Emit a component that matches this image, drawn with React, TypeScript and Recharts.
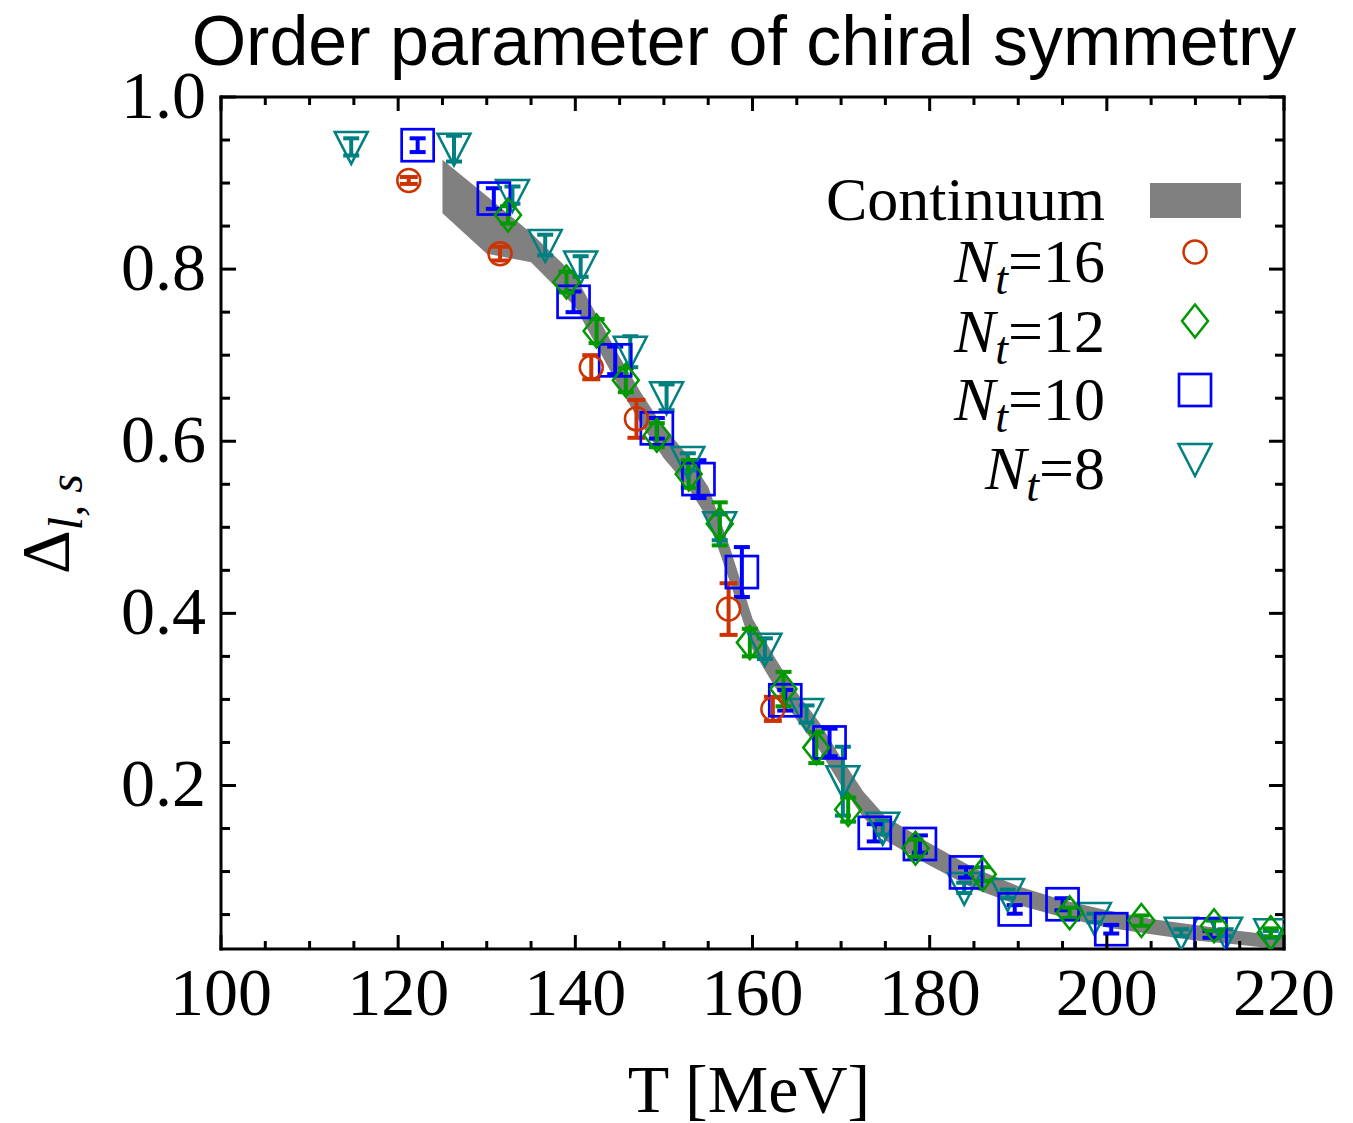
import React from 'react';
import { ComposedChart, Area, Scatter, ErrorBar, XAxis, YAxis } from 'recharts';

// axis ticks
const xTicks = [100, 105, 110, 115, 120, 125, 130, 135, 140, 145, 150, 155, 160, 165, 170, 175, 180, 185, 190, 195, 200, 205, 210, 215, 220];
const xMajor = [100, 120, 140, 160, 180, 200, 220];
const yTicks = [0.05, 0.1, 0.15, 0.2, 0.25, 0.3, 0.35, 0.4, 0.45, 0.5, 0.55, 0.6, 0.65, 0.7, 0.75, 0.8, 0.85, 0.9, 0.95, 1.0];
const yMajor = [0.2, 0.4, 0.6, 0.8, 1.0];

// continuum band
const bandT = [125, 130, 135, 140, 145, 147.5, 150, 152.5, 155, 157.5, 160, 162.5, 165, 167.5, 170, 172.5, 175, 180, 185, 190, 195, 200, 205, 210, 215, 220];
const bandLow = [0.865, 0.818, 0.808, 0.756, 0.662, 0.619, 0.58, 0.55, 0.509, 0.435, 0.358, 0.315, 0.276, 0.242, 0.2, 0.163, 0.136, 0.107, 0.08, 0.061, 0.047, 0.035, 0.027, 0.02, 0.015, 0.009];
const bandHigh = [0.927, 0.885, 0.842, 0.792, 0.698, 0.655, 0.616, 0.586, 0.547, 0.475, 0.394, 0.349, 0.308, 0.274, 0.232, 0.193, 0.164, 0.133, 0.104, 0.083, 0.067, 0.055, 0.045, 0.038, 0.031, 0.025];

// N_t = 8
const nt8T = [114.7, 126.3, 132.9, 136.6, 140.6, 146.2, 150.3, 152.7, 156.3, 161.4, 166.1, 170.2, 174.7, 183.9, 188.8, 198.6, 208.4, 213.4, 218.5];
const nt8D = [0.942, 0.94, 0.886, 0.828, 0.803, 0.704, 0.651, 0.576, 0.5, 0.359, 0.283, 0.205, 0.151, 0.081, 0.074, 0.046, 0.029, 0.029, 0.027];
const nt8E = [0.01, 0.015, 0.01, 0.012, 0.012, 0.018, 0.015, 0.01, 0.015, 0.012, 0.01, 0.04, 0.008, 0.006, 0.005, 0.005, 0.004, 0.004, 0.004];

// N_t = 10
const nt10T = [122.2, 130.8, 139.8, 144.5, 149.2, 153.9, 158.8, 163.7, 168.7, 173.8, 178.9, 184.1, 189.6, 195.0, 200.5, 211.7];
const nt10D = [0.944, 0.882, 0.762, 0.694, 0.615, 0.556, 0.448, 0.299, 0.25, 0.145, 0.132, 0.099, 0.056, 0.062, 0.033, 0.027];
const nt10E = [0.008, 0.012, 0.012, 0.016, 0.012, 0.022, 0.029, 0.012, 0.016, 0.01, 0.01, 0.006, 0.005, 0.007, 0.005, 0.004];

// N_t = 12
const nt12T = [132.4, 139.0, 142.4, 145.7, 149.2, 152.8, 156.3, 159.7, 163.5, 167.2, 170.8, 178.4, 186.0, 195.8, 203.9, 212.1, 218.5];
const nt12D = [0.863, 0.785, 0.728, 0.671, 0.607, 0.562, 0.504, 0.366, 0.312, 0.244, 0.172, 0.127, 0.097, 0.052, 0.043, 0.037, 0.029];
const nt12E = [0.01, 0.012, 0.014, 0.014, 0.014, 0.016, 0.025, 0.016, 0.02, 0.018, 0.014, 0.01, 0.008, 0.006, 0.006, 0.006, 0.005];

// N_t = 16
const nt16T = [121.2, 131.5, 141.8, 146.9, 157.3, 162.3];
const nt16D = [0.903, 0.818, 0.686, 0.626, 0.405, 0.289];
const nt16E = [0.004, 0.008, 0.014, 0.022, 0.03, 0.014];

const RED = '#cc3300';
const GREEN = '#009900';
const BLUE = '#0000ff';
const TEAL = '#008080';
const SERIF = '"Liberation Serif", "Times New Roman", serif';

const bandData = bandT.map((t, i) => ({ T: t, band: [bandLow[i], bandHigh[i]] }));
const toPoints = (ts: number[], ds: number[], es: number[]) =>
  ts.map((t, i) => ({ T: t, D: ds[i], E: es[i] }));

const nt8 = toPoints(nt8T, nt8D, nt8E);
const nt10 = toPoints(nt10T, nt10D, nt10E);
const nt12 = toPoints(nt12T, nt12D, nt12E);
const nt16 = toPoints(nt16T, nt16D, nt16E);

const circleMark = (cx: number, cy: number) => (
  <circle cx={cx} cy={cy} r={11.5} fill="none" stroke={RED} strokeWidth={2.5} />
);
const diamondMark = (cx: number, cy: number) => (
  <polygon
    points={`${cx},${cy - 16.5} ${cx + 13},${cy} ${cx},${cy + 16.5} ${cx - 13},${cy}`}
    fill="none"
    stroke={GREEN}
    strokeWidth={2.5}
  />
);
const squareMark = (cx: number, cy: number) => (
  <rect x={cx - 16} y={cy - 16} width={32} height={32} fill="none" stroke={BLUE} strokeWidth={2.7} />
);
const triangleMark = (cx: number, cy: number) => (
  <polygon
    points={`${cx - 16.5},${cy - 15} ${cx + 16.5},${cy - 15} ${cx},${cy + 17}`}
    fill="none"
    stroke={TEAL}
    strokeWidth={2.5}
  />
);

const shapeOf = (mark: (cx: number, cy: number) => React.ReactElement) => (props: any) => mark(props.cx, props.cy);

const isMajor = (list: number[], v: number) => list.some((m) => Math.abs(m - v) < 1e-6);

const BottomTick = (props: any) => {
  const { x, y, payload } = props;
  const major = isMajor(xMajor, payload.value);
  return (
    <g>
      <line x1={x} x2={x} y1={y} y2={y - (major ? 14 : 8)} stroke="#000" strokeWidth={3} />
      {major && (
        <text x={x} y={y + 66} textAnchor="middle" fontFamily={SERIF} fontSize={68} fill="#000">
          {payload.value}
        </text>
      )}
    </g>
  );
};

const TopTick = (props: any) => {
  const { x, y, payload } = props;
  const major = isMajor(xMajor, payload.value);
  return <line x1={x} x2={x} y1={y} y2={y + (major ? 14 : 8)} stroke="#000" strokeWidth={3} />;
};

const LeftTick = (props: any) => {
  const { x, y, payload } = props;
  const major = isMajor(yMajor, payload.value);
  return (
    <g>
      <line x1={x} x2={x + (major ? 15 : 9)} y1={y} y2={y} stroke="#000" strokeWidth={3} />
      {major && (
        <text x={x - 15} y={y + 21} textAnchor="end" fontFamily={SERIF} fontSize={68} fill="#000">
          {payload.value.toFixed(1)}
        </text>
      )}
    </g>
  );
};

const RightTick = (props: any) => {
  const { x, y, payload } = props;
  const major = isMajor(yMajor, payload.value);
  return <line x1={x} x2={x - (major ? 15 : 9)} y1={y} y2={y} stroke="#000" strokeWidth={3} />;
};

const frame = { stroke: '#000', strokeWidth: 3, strokeLinecap: 'square' as const };

const legendRows = [
  { label: '16', mark: circleMark },
  { label: '12', mark: diamondMark },
  { label: '10', mark: squareMark },
  { label: '8', mark: triangleMark },
];

export default function App() {
  const W = 1345;
  const H = 1115;
  return (
    <div style={{ position: 'relative', width: W, height: H, background: '#fff' }}>
      <ComposedChart
        width={W}
        height={H}
        data={bandData}
        margin={{ top: 88, right: 68, bottom: 74, left: 13 }}
      >
        <XAxis
          dataKey="T"
          type="number"
          domain={[100, 220]}
          allowDataOverflow
          ticks={xTicks}
          interval={0}
          tick={<BottomTick />}
          tickLine={false}
          tickSize={0}
          tickMargin={0}
          axisLine={frame}
          height={100}
        />
        <XAxis
          xAxisId="top"
          orientation="top"
          dataKey="T"
          type="number"
          domain={[100, 220]}
          allowDataOverflow
          ticks={xTicks}
          interval={0}
          tick={<TopTick />}
          tickLine={false}
          tickSize={0}
          tickMargin={0}
          axisLine={frame}
          height={1}
        />
        <YAxis
          type="number"
          domain={[0.01, 1.0]}
          allowDataOverflow
          ticks={yTicks}
          interval={0}
          tick={<LeftTick />}
          tickLine={false}
          tickSize={0}
          tickMargin={0}
          axisLine={frame}
          width={200}
        />
        <YAxis
          yAxisId="right"
          orientation="right"
          type="number"
          domain={[0.01, 1.0]}
          allowDataOverflow
          ticks={yTicks}
          interval={0}
          tick={<RightTick />}
          tickLine={false}
          tickSize={0}
          tickMargin={0}
          axisLine={frame}
          width={1}
        />
        <Area
          dataKey="band"
          type="linear"
          stroke="none"
          fill="#808080"
          fillOpacity={1}
          isAnimationActive={false}
        />
        <Scatter data={nt8} dataKey="D" shape={shapeOf(triangleMark)} isAnimationActive={false}>
          <ErrorBar dataKey="E" direction="y" width={8} stroke={TEAL} strokeWidth={4} />
        </Scatter>
        <Scatter data={nt10} dataKey="D" shape={shapeOf(squareMark)} isAnimationActive={false}>
          <ErrorBar dataKey="E" direction="y" width={8} stroke={BLUE} strokeWidth={4} />
        </Scatter>
        <Scatter data={nt12} dataKey="D" shape={shapeOf(diamondMark)} isAnimationActive={false}>
          <ErrorBar dataKey="E" direction="y" width={8} stroke={GREEN} strokeWidth={4} />
        </Scatter>
        {/* same domains as the bottom/left axes, bound here so the mirrored frame is drawn */}
        <Scatter
          data={nt16}
          dataKey="D"
          xAxisId="top"
          yAxisId="right"
          shape={shapeOf(circleMark)}
          isAnimationActive={false}
        >
          <ErrorBar dataKey="E" direction="y" width={9} stroke={RED} strokeWidth={4} />
        </Scatter>
      </ComposedChart>

      <svg
        width={W}
        height={H}
        style={{ position: 'absolute', left: 0, top: 0, pointerEvents: 'none' }}
      >
        <text x={736} y={57} textAnchor="middle" fontFamily='"Liberation Sans", Arial, sans-serif' fontSize={70} fill="#000">
          Order parameter of chiral symmetry
        </text>
        <text x={741} y={1104} textAnchor="middle" fontFamily={SERIF} fontSize={68} fill="#000">
          T [MeV]
        </text>
        <text transform="translate(60,516) rotate(-90)" textAnchor="middle" fontFamily={SERIF} fontSize={68} fill="#000">
          Δ
          <tspan fontStyle="italic" fontSize={48} dy={14}>l, s</tspan>
        </text>

        <text x={1097} y={212} textAnchor="end" fontFamily={SERIF} fontSize={62} fill="#000">
          Continuum
        </text>
        <rect x={1142} y={175} width={91} height={35} fill="#808080" />
        {legendRows.map((row, i) => {
          const base = [274, 344, 412, 481][i];
          const my = [244, 313, 382, 451][i];
          return (
            <g key={row.label}>
              <text x={1097} y={base} textAnchor="end" fontFamily={SERIF} fontSize={62} fill="#000">
                <tspan fontStyle="italic">N</tspan>
                <tspan fontStyle="italic" fontSize={46} dy={12}>t</tspan>
                <tspan dy={-12}>={row.label}</tspan>
              </text>
              {row.mark(1187, my)}
            </g>
          );
        })}
      </svg>
    </div>
  );
}
